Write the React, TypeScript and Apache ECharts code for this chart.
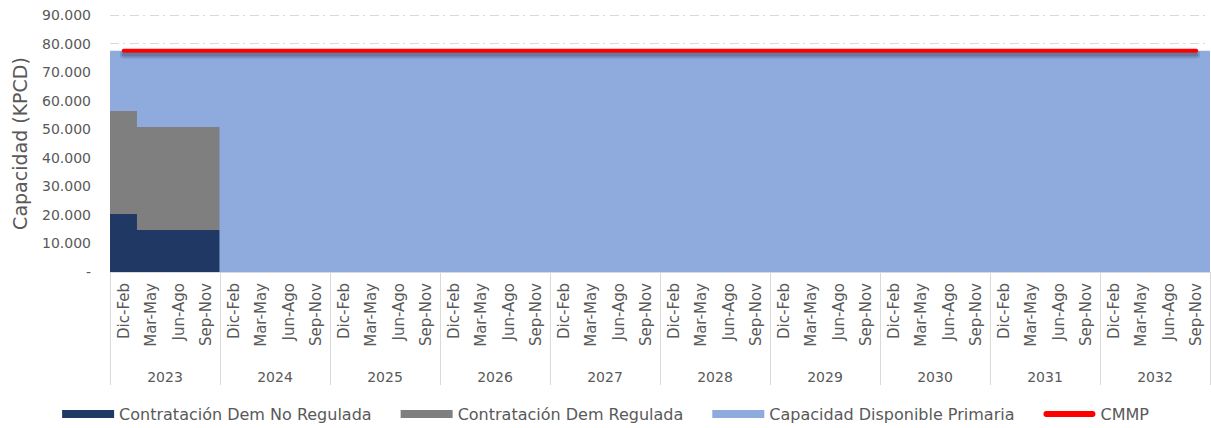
import React, { useEffect, useRef } from "react";
import * as echarts from "echarts";

const seasons = ["Dic-Feb", "Mar-May", "Jun-Ago", "Sep-Nov"];
const years = ["2023", "2024", "2025", "2026", "2027", "2028", "2029", "2030", "2031", "2032"];
const categories: string[] = years.flatMap((y) => seasons.map((s) => `${s}|${y}`));

const noRegulada = [20300, 14700, 14700, 14700, ...Array(36).fill(0)];
const regulada = [36100, 36100, 36100, 36100, ...Array(36).fill(0)];
const disponible = [21100, 26700, 26700, 26700, ...Array(36).fill(77500)];
const cmmp = Array(40).fill(77500);

const FONT = "DejaVu Sans";
const GREY_TEXT = "#595959";
const SHADOW_DROP = 1300;

export default function App() {
  const ref = useRef<HTMLDivElement>(null);
  useEffect(() => {
    const chart = echarts.init(ref.current!, undefined, { renderer: "svg" });
    const shadow = cmmp.map((v) => v - SHADOW_DROP);
    chart.setOption({
      animation: false,
      textStyle: { fontFamily: FONT },
      grid: { left: 110, right: 1, top: 15, bottom: 156 },
      legend: {
        left: "center",
        top: 401,
        itemWidth: 52,
        itemHeight: 8,
        itemGap: 29,
        textStyle: { color: GREY_TEXT, fontSize: 16, fontFamily: FONT },
        data: [
          { name: "Contratación Dem No Regulada", icon: "rect" },
          { name: "Contratación Dem Regulada", icon: "rect" },
          { name: "Capacidad Disponible Primaria", icon: "rect" },
          {
            name: "CMMP",
            icon: "path://M3,0 L49,0 A3,3 0 0 1 49,6 L3,6 A3,3 0 0 1 3,0 Z",
            itemStyle: { color: "#ff0000" },
          },
        ],
      },
      xAxis: [
        {
          type: "category",
          data: categories,
          position: "bottom",
          axisLine: { lineStyle: { color: "#d9d9d9" } },
          axisTick: {
            show: true,
            interval: (i: number) => i % 4 === 0,
            length: 113,
            lineStyle: { color: "#d9d9d9" },
          },
          axisLabel: {
            interval: 0,
            rotate: 90,
            margin: 11,
            fontSize: 15,
            color: GREY_TEXT,
            fontFamily: FONT,
            formatter: (v: string) => v.split("|")[0],
          },
        },
        {
          type: "category",
          data: years,
          position: "bottom",
          axisLine: { show: false },
          axisTick: { show: false },
          axisLabel: { margin: 98, fontSize: 14, color: GREY_TEXT, fontFamily: FONT },
        },
      ],
      yAxis: {
        type: "value",
        min: 0,
        max: 90000,
        interval: 10000,
        name: "Capacidad (KPCD)",
        nameLocation: "middle",
        nameGap: 81,
        nameTextStyle: { fontSize: 19, color: GREY_TEXT, fontFamily: FONT },
        axisLine: { show: false },
        axisTick: { show: false },
        axisLabel: {
          fontSize: 14,
          color: GREY_TEXT,
          margin: 19,
          fontFamily: FONT,
          formatter: (v: number) =>
            v === 0 ? "-" : v.toString().replace(/\B(?=(\d{3})+(?!\d))/g, "."),
        },
        splitLine: {
          lineStyle: { color: "#d9d9d9", width: 1, type: [9, 4, 2, 5] },
        },
      },
      series: [
        {
          name: "Contratación Dem No Regulada",
          type: "bar",
          stack: "cap",
          barWidth: "104%",
          itemStyle: { color: "#203864" },
          data: noRegulada,
        },
        {
          name: "Contratación Dem Regulada",
          type: "bar",
          stack: "cap",
          barWidth: "104%",
          itemStyle: { color: "#7f7f7f" },
          data: regulada,
        },
        {
          name: "Capacidad Disponible Primaria",
          type: "bar",
          stack: "cap",
          barWidth: "104%",
          itemStyle: { color: "#8faadc" },
          data: disponible,
        },
        {
          name: "cmmp-shadow-wide",
          type: "line",
          symbol: "none",
          silent: true,
          z: 3,
          lineStyle: { color: "rgba(40,60,100,0.18)", width: 8, cap: "round" },
          data: shadow,
        },
        {
          name: "cmmp-shadow",
          type: "line",
          symbol: "none",
          silent: true,
          z: 3,
          lineStyle: { color: "rgba(40,60,100,0.3)", width: 4, cap: "round" },
          data: shadow,
        },
        {
          name: "CMMP",
          type: "line",
          symbol: "none",
          z: 5,
          itemStyle: { color: "#ff0000" },
          lineStyle: { color: "#ff0000", width: 4, cap: "round" },
          data: cmmp,
        },
      ],
    });
    return () => chart.dispose();
  }, []);
  return <div ref={ref} style={{ width: 1211, height: 428, position: "absolute", left: 0, top: 0 }} />;
}
